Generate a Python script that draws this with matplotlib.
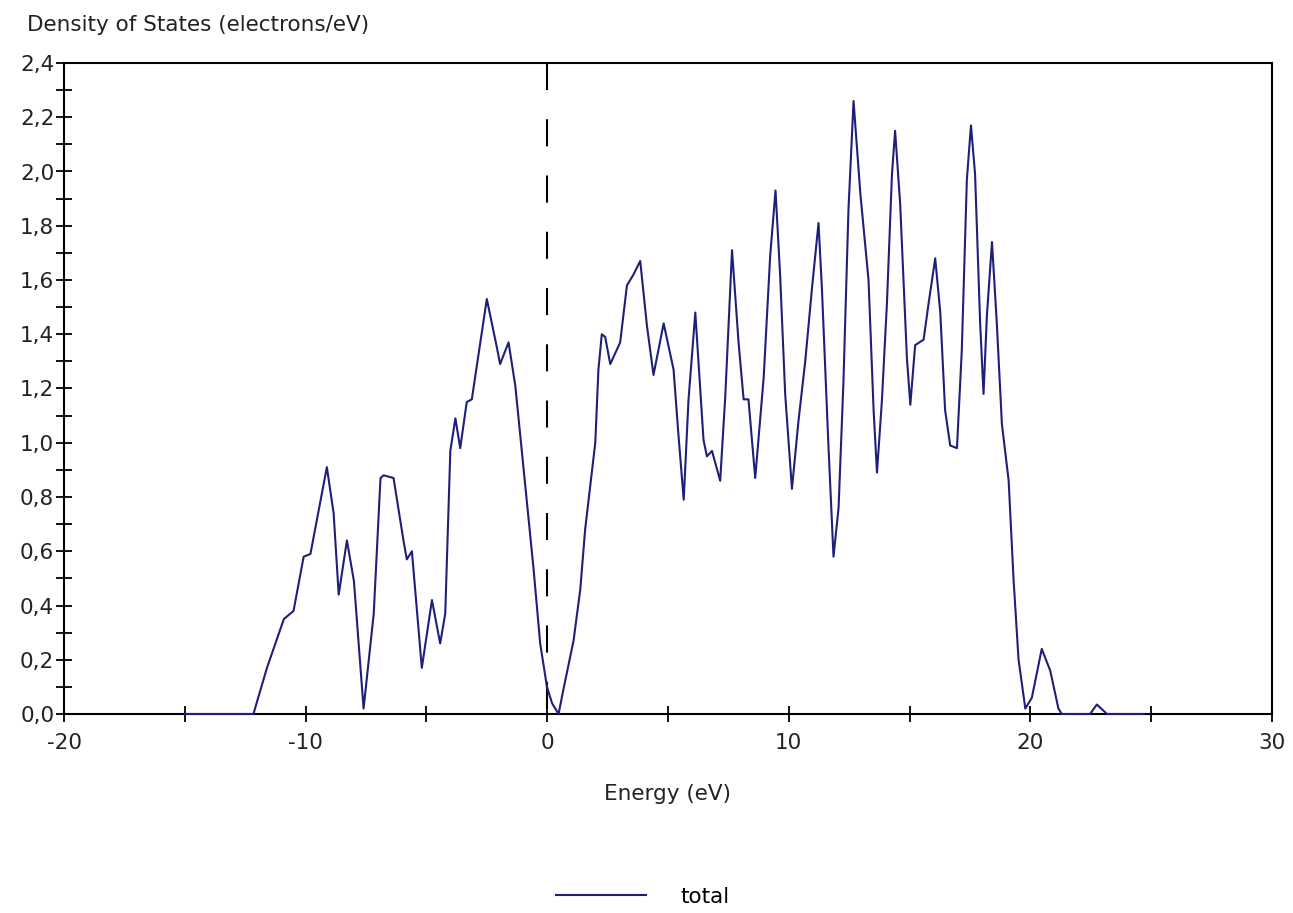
import numpy as np
import matplotlib
matplotlib.use("Agg")
import matplotlib.pyplot as plt
from matplotlib.ticker import MultipleLocator, FuncFormatter

# energy (eV) / total DOS
energy = [-15.0, -12.4, -12.16, -11.6, -10.9, -10.5, -10.08, -9.8, -9.12, -8.84,
          -8.63, -8.29, -8.0, -7.6, -7.18, -6.9, -6.77, -6.36, -5.95, -5.81,
          -5.6, -5.19, -4.77, -4.43, -4.22, -4.01, -3.8, -3.6, -3.33, -3.12,
          -2.5, -2.08, -1.95, -1.6, -1.32, -0.84, -0.57, -0.29, -0.01, 0.2,
          0.47, 0.67, 1.09, 1.37, 1.57, 1.78, 1.99, 2.12, 2.26, 2.4,
          2.61, 3.02, 3.3, 3.57, 3.85, 4.13, 4.4, 4.82, 5.23, 5.44,
          5.65, 5.85, 6.13, 6.47, 6.61, 6.82, 7.16, 7.37, 7.65, 7.92,
          8.13, 8.33, 8.61, 8.96, 9.23, 9.45, 9.64, 9.85, 10.13, 10.4,
          10.68, 10.96, 11.23, 11.37, 11.64, 11.85, 12.06, 12.26, 12.47, 12.68,
          12.96, 13.3, 13.51, 13.65, 13.85, 14.06, 14.27, 14.4, 14.61, 14.89,
          15.03, 15.23, 15.58, 15.78, 16.06, 16.27, 16.47, 16.68, 16.96, 17.16,
          17.37, 17.54, 17.71, 17.92, 18.06, 18.2, 18.41, 18.61, 18.82, 19.1,
          19.3, 19.51, 19.79, 20.06, 20.47, 20.82, 21.16, 21.3, 22.47, 22.75,
          23.17, 24.7]
dos = [0.0, 0.0, 0.0, 0.17, 0.35, 0.38, 0.58, 0.59, 0.91, 0.74,
       0.44, 0.64, 0.49, 0.02, 0.37, 0.87, 0.88, 0.87, 0.64, 0.57,
       0.60, 0.17, 0.42, 0.26, 0.37, 0.97, 1.09, 0.98, 1.15, 1.16,
       1.53, 1.35, 1.29, 1.37, 1.21, 0.78, 0.54, 0.26, 0.10, 0.04,
       0.0, 0.09, 0.27, 0.46, 0.68, 0.84, 1.0, 1.27, 1.40, 1.39,
       1.29, 1.37, 1.58, 1.62, 1.67, 1.43, 1.25, 1.44, 1.27, 1.02,
       0.79, 1.16, 1.48, 1.01, 0.95, 0.97, 0.86, 1.17, 1.71, 1.37,
       1.16, 1.16, 0.87, 1.24, 1.69, 1.93, 1.62, 1.18, 0.83, 1.08,
       1.30, 1.57, 1.81, 1.57, 0.99, 0.58, 0.76, 1.22, 1.86, 2.26,
       1.92, 1.60, 1.12, 0.89, 1.15, 1.51, 1.99, 2.15, 1.88, 1.31,
       1.14, 1.36, 1.38, 1.51, 1.68, 1.48, 1.12, 0.99, 0.98, 1.34,
       1.97, 2.17, 1.99, 1.44, 1.18, 1.47, 1.74, 1.44, 1.07, 0.86,
       0.50, 0.20, 0.02, 0.06, 0.24, 0.16, 0.02, 0.0, 0.0, 0.035,
       0.0, 0.0]

plt.rcParams['font.family'] = ['DejaVu Sans']
plt.rcParams['axes.unicode_minus'] = False

FS = 15.5
fig = plt.figure(figsize=(12.93, 9.13), dpi=100)
ax = fig.add_axes([64/1293, 1-714/913, (1272-64)/1293, (714-63)/913])

line, = ax.plot(energy, dos, color='#1f1f7a', lw=1.5, label='total',
                zorder=3, clip_on=False)
# fermi level, drawn top-down so the dash pattern starts at the top
ax.plot([0, 0], [2.4, 0], color='black', lw=1.5, dashes=(13, 14), zorder=2)

ax.set_xlim(-20, 30)
ax.set_ylim(0, 2.4)
ax.xaxis.set_major_locator(MultipleLocator(10))
ax.xaxis.set_minor_locator(MultipleLocator(5))
ax.yaxis.set_major_locator(MultipleLocator(0.2))
ax.yaxis.set_minor_locator(MultipleLocator(0.1))
ax.yaxis.set_major_formatter(FuncFormatter(lambda v, p: f"{v:.1f}".replace('.', ',')))

for s in ax.spines.values():
    s.set_linewidth(1.5)
ax.tick_params(which='both', direction='inout', length=12, width=1.3,
               labelsize=FS, colors='black', labelcolor='#222222')
ax.tick_params(axis='x', pad=8)
ax.tick_params(axis='y', pad=1)

ax.set_xlabel('Energy (eV)', fontsize=FS, labelpad=22, color='#222222')
fig.text(27/1293, 1-25/913, 'Density of States (electrons/eV)', fontsize=FS,
         ha='left', va='center', color='#222222')

fig.legend(handles=[line], loc='center', bbox_to_anchor=(643/1293, 1-897/913),
           frameon=False, fontsize=FS, handlelength=4.2, handletextpad=1.6)

fig.savefig('out.png', dpi=100)
